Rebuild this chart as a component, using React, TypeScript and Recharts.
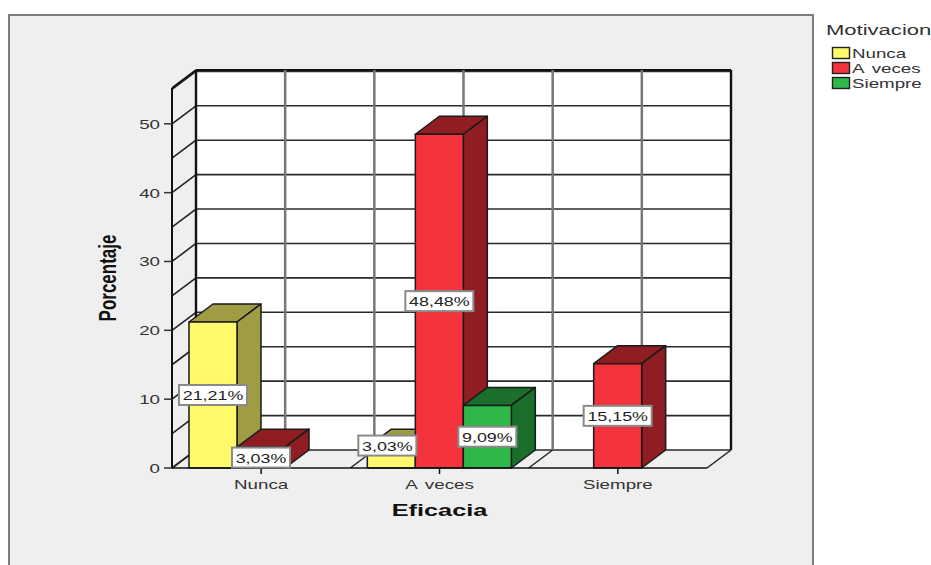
import React from "react";
import { BarChart, Bar, XAxis, YAxis, CartesianGrid, Legend, LabelList, Label } from "recharts";

const categories = ["Nunca", "A veces", "Siempre"];
const nuncaValues = [21.21, 3.03, null];
const aVecesValues = [3.03, 48.48, 15.15];
const siempreValues = [null, 9.09, null];
const yTicks = [0, 10, 20, 30, 40, 50];
const gridValues = [0, 5, 10, 15, 20, 25, 30, 35, 40, 45, 50, 55];
const series = ["Nunca", "A veces", "Siempre"];

const data = categories.map((name, i) => ({
  name,
  Nunca: i === 0 ? nuncaValues[0] : i === 1 ? aVecesValues[0] : null,
  "A veces": i === 0 ? nuncaValues[1] : i === 1 ? aVecesValues[1] : aVecesValues[2],
  Siempre: siempreValues[i],
}));

const W = 931;
const H = 565;
const DX = 24;
const DY = 18;
const FONT = "'Liberation Sans', Arial, sans-serif";
const LINE = "#222222";
const COLORS: Record<string, [string, string]> = {
  Nunca: ["#FFF96B", "#A09C46"],
  "A veces": ["#F4333C", "#8F1D22"],
  Siempre: ["#2FB84A", "#1C6E2C"],
};

function Wide(p: any) {
  const { x, y, sx = 1.5, sy = 1, rotate = 0, size = 12.5, weight = "normal", fill = "#333", anchor = "middle", wordSpacing, children } = p;
  return (
    <text
      transform={`translate(${x},${y}) rotate(${rotate}) scale(${sx},${sy})`}
      textAnchor={anchor}
      fontFamily={FONT}
      fontSize={size}
      fontWeight={weight}
      fill={fill}
      wordSpacing={wordSpacing}
    >
      {children}
    </text>
  );
}

function Bar3D(props: any) {
  const { x, y, width, height, fill, dark, value } = props;
  if (value == null || !height) return null;
  const r = x + width;
  const b = y + height;
  return (
    <g stroke="#1a1a1a" strokeWidth={1.5} strokeLinejoin="round">
      <polygon points={`${x},${y} ${x + DX},${y - DY} ${r + DX},${y - DY} ${r},${y}`} fill={dark} />
      <polygon points={`${r},${y} ${r + DX},${y - DY} ${r + DX},${b - DY} ${r},${b}`} fill={dark} />
      <rect x={x} y={y} width={width} height={height} fill={fill} />
    </g>
  );
}

function ValueLabel(props: any) {
  const { x, y, width, height, value, nudgeX = 0, nudgeY = 0 } = props;
  if (value == null || !height) return null;
  const text = Number(value).toFixed(2).replace(".", ",") + "%";
  const w = text.length * 10 + 8;
  const cx = x + width / 2 + nudgeX;
  const cy = y + height / 2 + nudgeY;
  return (
    <g>
      <rect x={cx - w / 2} y={cy - 10} width={w} height={20} fill="#fff" stroke="#8a8a8a" strokeWidth={2} />
      <Wide x={cx} y={cy + 5} sx={1.43} fill="#222">{text}</Wide>
    </g>
  );
}

function HLine(props: any) {
  const { x1, x2, y1, index, x, y, width, height } = props;
  return (
    <g>
      {index === 0 ? <rect x={x + DX} y={y - DY} width={width} height={height} fill="#fff" /> : null}
      <line x1={x1 + DX} x2={x2 + DX} y1={y1 - DY} y2={y1 - DY} stroke="#2a2a2a" strokeWidth={1.6} />
      <line x1={x1} x2={x1 + DX} y1={y1} y2={y1 - DY} stroke={LINE} strokeWidth={1.6} />
    </g>
  );
}

function VLine(props: any) {
  const { x1, index, x, y, width, height } = props;
  const top = y;
  const bottom = y + height;
  const edge = index === 0 || index === 6;
  return (
    <g>
      <line
        x1={x1 + DX}
        x2={x1 + DX}
        y1={top - DY}
        y2={bottom - DY}
        stroke={edge ? "#111" : "#777"}
        strokeWidth={edge ? 2.4 : 2.5}
      />
      <line x1={x1} x2={x1 + DX} y1={bottom} y2={bottom - DY} stroke={LINE} strokeWidth={1.5} />
      {index === 0 ? (
        <g stroke="#111" strokeWidth={1.8}>
          <line x1={x1} x2={x1 + DX} y1={top} y2={top - DY} />
          <line x1={x + DX} x2={x + width + DX} y1={top - DY} y2={top - DY} />
        </g>
      ) : null}
    </g>
  );
}

function XTick(props: any) {
  const { x, y, payload } = props;
  return <Wide x={x} y={y + 13} wordSpacing={2}>{payload.value}</Wide>;
}

function YTick(props: any) {
  const { x, y, payload } = props;
  return <Wide x={x - 2} y={y + 5} anchor="end">{payload.value}</Wide>;
}

function LegendBox(props: any) {
  const items = (props.payload || []) as any[];
  return (
    <svg width={W} height={100} style={{ display: "block" }}>
      <Wide x={826} y={35} size={14.5} sx={1.52} anchor="start" fill="#333">Motivacion</Wide>
      {items.map((it, i) => (
        <g key={it.value}>
          <rect x={832.5} y={47.5 + i * 15} width={17} height={11} fill={it.color} stroke="#222" strokeWidth={1.4} />
          <Wide x={852} y={58 + i * 15} size={12.5} sx={1.5} anchor="start" fill="#333" wordSpacing={2}>{it.value}</Wide>
        </g>
      ))}
    </svg>
  );
}

export default function App() {
  return (
    <div style={{ position: "absolute", left: 0, top: 0, width: W, height: H, overflow: "hidden", background: "#fff" }}>
      <div
        style={{
          position: "absolute",
          left: 8,
          top: 14,
          width: 806,
          height: 570,
          background: "#EFEFEF",
          border: "2px solid #7d7d7d",
          boxSizing: "border-box",
        }}
      />
      <div style={{ position: "absolute", left: 0, top: 0 }}>
        <BarChart
          width={W}
          height={H}
          data={data}
          margin={{ top: 88, right: 224, bottom: 0, left: 0 }}
          barSize={48}
          barGap={0}
        >
          <CartesianGrid
            horizontalValues={gridValues}
            verticalCoordinatesGenerator={({ offset }: any) =>
              [0, 1, 2, 3, 4, 5, 6].map((k) => offset.left + (offset.width * k) / 6)
            }
            horizontal={((p: any) => <HLine {...p} />) as any}
            vertical={((p: any) => <VLine {...p} />) as any}
            stroke="none"
          />
          <XAxis
            dataKey="name"
            axisLine={{ stroke: "#111", strokeWidth: 1.6 }}
            tickLine={{ stroke: "#111", strokeWidth: 1.5 }}
            tickSize={6}
            tick={<XTick />}
            interval={0}
            height={97}
          >
            <Label
              content={(p: any) => (
                <Wide x={p.viewBox.x + p.viewBox.width / 2} y={516} size={16} sx={1.58} weight="bold" fill="#111">
                  Eficacia
                </Wide>
              )}
            />
          </XAxis>
          <YAxis
            domain={[0, 55.2]}
            ticks={yTicks}
            axisLine={{ stroke: "#111", strokeWidth: 2 }}
            tickLine={{ stroke: "#333", strokeWidth: 1.5 }}
            tickSize={8}
            tick={<YTick />}
            width={172}
          >
            <Label
              content={(p: any) => (
                <Wide
                  x={116}
                  y={p.viewBox.y + p.viewBox.height / 2}
                  rotate={-90}
                  size={17}
                  sx={1}
                  sy={1.42}
                  weight="bold"
                  fill="#111"
                >
                  Porcentaje
                </Wide>
              )}
            />
          </YAxis>
          <Legend
            layout="horizontal"
            align="center"
            verticalAlign="middle"
            itemSorter={null as any}
            content={<LegendBox />}
            wrapperStyle={{ position: "absolute", left: 0, top: 0, width: W, height: 100, pointerEvents: "none" }}
          />
          {series.map((s) => (
            <Bar
              key={s}
              dataKey={s}
              name={s}
              fill={COLORS[s][0]}
              isAnimationActive={false}
              shape={(p: any) => <Bar3D {...p} dark={COLORS[s][1]} />}
            >
              <LabelList
                dataKey={s}
                content={(p: any) => {
                  const moved = s === "Nunca" && p.index === 1;
                  return <ValueLabel {...p} nudgeX={moved ? -4 : 0} nudgeY={moved ? -12 : 0} />;
                }}
              />
            </Bar>
          ))}
        </BarChart>
      </div>
    </div>
  );
}
